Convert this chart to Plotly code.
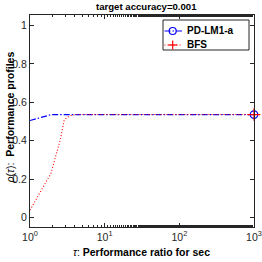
import plotly.graph_objects as go

title_text = "target accuracy=0.001"
x_title = "<i>τ</i>: <b>Performance ratio for sec</b>"
y_title = "<i>ρ</i>(<i>τ</i>):  <b>Performance profiles</b>"
series_names = ["PD-LM1-a", "BFS"]

tau_pd = [1.0, 1.93, 1000.0]
rho_pd = [0.505, 0.536, 0.536]

tau_bfs = [1.0, 1.91, 2.2, 2.55, 2.85, 3.1, 3.4, 4.0, 1000.0]
rho_bfs = [0.038, 0.23, 0.317, 0.405, 0.503, 0.52, 0.529, 0.536, 0.536]

x_tickvals = [1, 10, 100, 1000]
x_ticktext = ["10<sup>0</sup>", "10<sup>1</sup>", "10<sup>2</sup>", "10<sup>3</sup>"]
y_tickvals = [0, 0.2, 0.4, 0.6, 0.8, 1]
y_ticktext = ["0", "0.2", "0.4", "0.6", "0.8", "1"]

blue = "#0000ff"
red = "#ff0000"
axis_col = "#262626"
FONT = "Liberation Sans, Arial, sans-serif"
DASHDOT = "6px,2px,1.5px,2px"
DOT = "1px,2px"

# plot area in pixels (figure 262x262)
L, R, T, B = 30, 254, 15, 227
W, H = R - L, B - T
def px(X):
    return (X - L) / W
def py(Y):
    return (B - Y) / H

fig = go.Figure()
fig.add_trace(go.Scatter(x=tau_pd, y=rho_pd, mode="lines",
                         line=dict(color=blue, width=1.2, dash=DASHDOT),
                         showlegend=False, hoverinfo="skip"))
fig.add_trace(go.Scatter(x=tau_bfs, y=rho_bfs, mode="lines",
                         line=dict(color=red, width=1.1, dash=DOT),
                         showlegend=False, hoverinfo="skip"))
fig.add_trace(go.Scatter(x=tau_pd[-1:], y=rho_pd[-1:], mode="markers",
                         marker=dict(symbol="circle-open", size=7.5, color=blue, line=dict(width=1.2)),
                         showlegend=False, hoverinfo="skip", cliponaxis=False))
fig.add_trace(go.Scatter(x=tau_bfs[-1:], y=rho_bfs[-1:], mode="markers",
                         marker=dict(symbol="cross-thin-open", size=9, color=red, line=dict(width=1.2, color=red)),
                         showlegend=False, hoverinfo="skip", cliponaxis=False))

# manual legend (MATLAB style)
shapes = [
    dict(type="rect", xref="paper", yref="paper", x0=px(163), x1=px(249), y0=py(50), y1=py(20),
         line=dict(color=axis_col, width=1), fillcolor="white", layer="above"),
    dict(type="line", xref="paper", yref="paper", x0=px(164.5), x1=px(182), y0=py(31), y1=py(31),
         line=dict(color=blue, width=1.2, dash=DASHDOT), layer="above"),
    dict(type="circle", xref="paper", yref="paper", x0=px(172.7 - 3.5), x1=px(172.7 + 3.5),
         y0=py(31 + 3.5), y1=py(31 - 3.5), line=dict(color=blue, width=1.2), layer="above"),
    dict(type="line", xref="paper", yref="paper", x0=px(164.5), x1=px(182), y0=py(45), y1=py(45),
         line=dict(color=red, width=1.1, dash=DOT), layer="above"),
    dict(type="line", xref="paper", yref="paper", x0=px(168.2), x1=px(177.2), y0=py(45), y1=py(45),
         line=dict(color=red, width=1.2), layer="above"),
    dict(type="line", xref="paper", yref="paper", x0=px(172.7), x1=px(172.7), y0=py(40.5), y1=py(49.5),
         line=dict(color=red, width=1.2), layer="above"),
]
annotations = [
    dict(text="<b>" + series_names[0] + "</b>", x=px(185), y=py(31), xref="paper", yref="paper",
         xanchor="left", yanchor="middle", showarrow=False,
         font=dict(family=FONT, size=10, color="black")),
    dict(text="<b>" + series_names[1] + "</b>", x=px(185), y=py(45), xref="paper", yref="paper",
         xanchor="left", yanchor="middle", showarrow=False,
         font=dict(family=FONT, size=10, color="black")),
    dict(text="<b>" + title_text + "</b>", x=px(146.5), y=py(6.5), xref="paper", yref="paper",
         xanchor="center", yanchor="middle", showarrow=False,
         font=dict(family=FONT, size=9.6, color="black")),
    dict(text=x_title, x=px(141), y=py(252), xref="paper", yref="paper",
         xanchor="center", yanchor="middle", showarrow=False,
         font=dict(family=FONT, size=10.5, color="black")),
    dict(text=y_title, x=px(9.5), y=py(118), xref="paper", yref="paper", textangle=-90,
         xanchor="center", yanchor="middle", showarrow=False,
         font=dict(family=FONT, size=10.5, color="black")),
]

fig.update_layout(
    width=262, height=262,
    margin=dict(l=L, r=262 - R, t=T, b=262 - B, autoexpand=False),
    paper_bgcolor="white", plot_bgcolor="white",
    font=dict(family=FONT, size=10.5, color=axis_col),
    showlegend=False,
    shapes=shapes,
    annotations=annotations,
)
fig.update_xaxes(
    type="log", range=[0, 3], automargin=False,
    tickvals=x_tickvals, ticktext=x_ticktext, ticklabeloverflow="allow",
    ticks="inside", ticklen=4, tickcolor=axis_col,
    showline=True, linecolor=axis_col, linewidth=1, mirror="ticks",
    showgrid=False, zeroline=False,
    minor=dict(ticks="inside", ticklen=2, tickcolor=axis_col, showgrid=False),
    tickfont=dict(family=FONT, size=10.5, color=axis_col),
)
fig.update_yaxes(
    range=[-0.05, 1.055], automargin=False,
    tickvals=y_tickvals, ticktext=y_ticktext,
    ticks="inside", ticklen=4, tickcolor=axis_col,
    showline=True, linecolor=axis_col, linewidth=1, mirror="ticks",
    showgrid=False, zeroline=False,
    tickfont=dict(family=FONT, size=10.5, color=axis_col),
)

fig.write_html("out.html", config={"displayModeBar": False},
               post_script="document.body.style.margin='0px';")
